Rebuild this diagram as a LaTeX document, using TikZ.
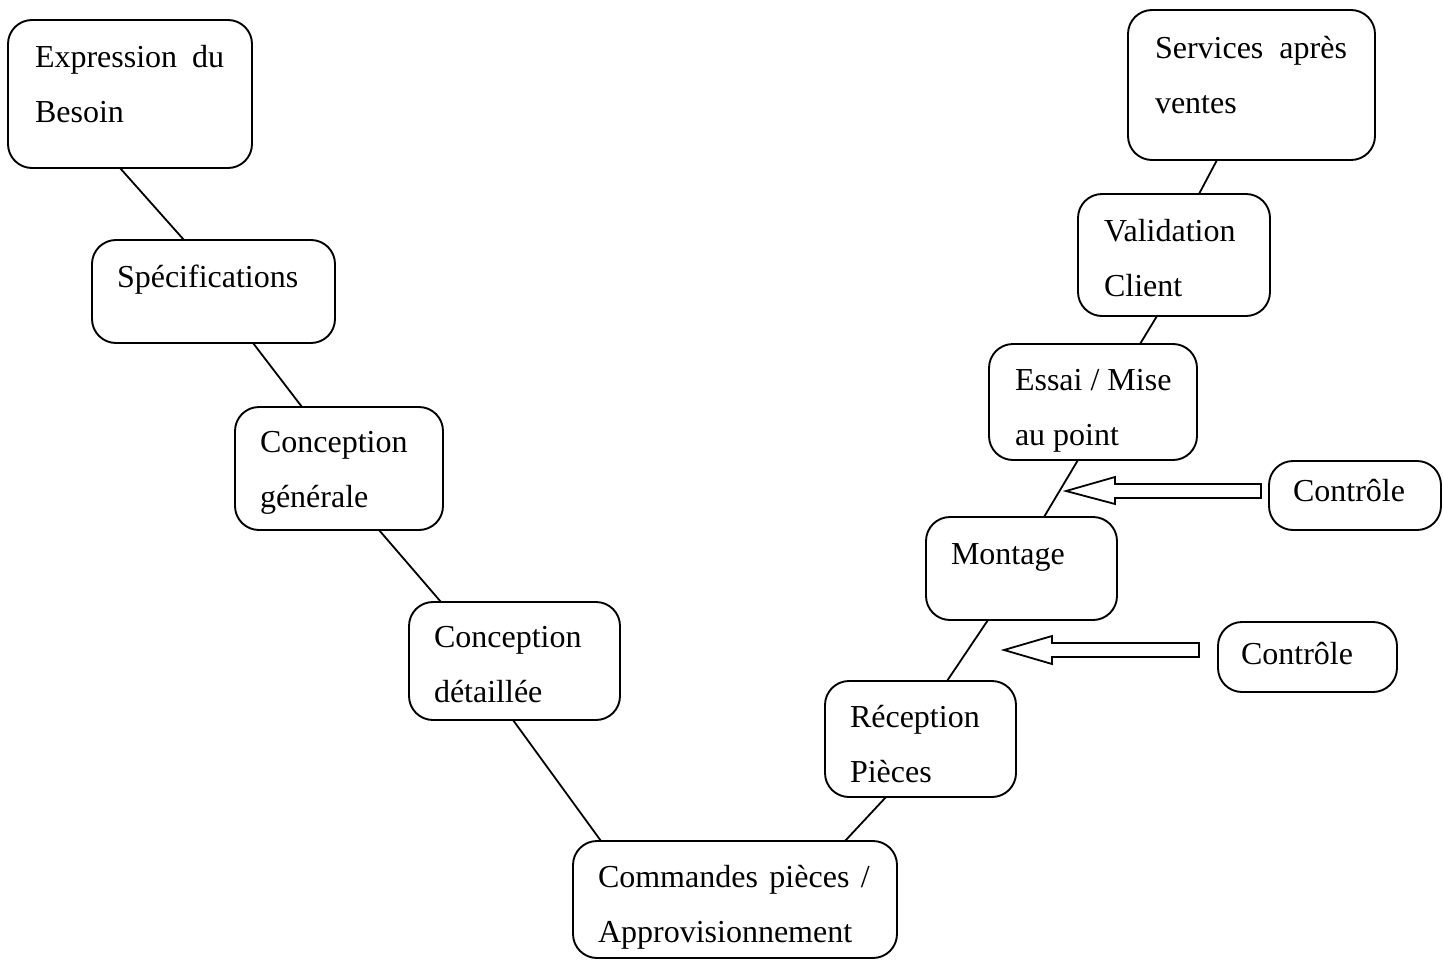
\documentclass[tikz,border=0pt]{standalone}
\usepackage{fontspec}
\setmainfont{Liberation Serif}
\usetikzlibrary{calc}
\tikzset{
  box/.style={draw, line width=1.9pt, rounded corners=24pt, inner sep=0pt, outer sep=0pt},
  lbl/.style={anchor=north west, inner sep=0pt, outer sep=0pt, align=left, font=\fontsize{32}{55}\selectfont},
  conn/.style={line width=1.8pt},
  blockarrow/.style={draw, line width=1.8pt, fill=white, line join=miter}
}
\newcommand{\st}{\rule{0pt}{24pt}}
\begin{document}
\begin{tikzpicture}[x=1pt,y=-1pt]
\useasboundingbox (0,0) rectangle (1443,961);
% boxes: center=(l+r)/2,(t+b)/2
\node[box, minimum width=244, minimum height=148] (b1) at (130,94) {};
\node[box, minimum width=243, minimum height=103] (b2) at (213.5,291.5) {};
\node[box, minimum width=208, minimum height=123] (b3) at (339,468.5) {};
\node[box, minimum width=211, minimum height=118] (b4) at (514.5,661) {};
\node[box, minimum width=324, minimum height=117] (b5) at (735,899.5) {};
\node[box, minimum width=191, minimum height=116] (b6) at (920.5,739) {};
\node[box, minimum width=191, minimum height=103] (b7) at (1021.5,568.5) {};
\node[box, minimum width=208, minimum height=116] (b8) at (1093,402) {};
\node[box, minimum width=192, minimum height=122] (b9) at (1174,255) {};
\node[box, minimum width=247, minimum height=150] (b10) at (1251.5,85) {};
\node[box, minimum width=172, minimum height=69] (c1) at (1355,495.5) {};
\node[box, minimum width=179, minimum height=70] (c2) at (1307.5,657) {};
% labels
\node[lbl] (t1) at ($(b1.north west)+(27,23)$) {\st Expression\hspace{15pt}du\\Besoin};
\node[lbl] (t2) at ($(b2.north west)+(25,23)$) {\st Spécifications};
\node[lbl] (t3) at ($(b3.north west)+(25,21)$) {\st Conception\\générale};
\node[lbl] (t4) at ($(b4.north west)+(25,21)$) {\st Conception\\détaillée};
\node[lbl] (t5) at ($(b5.north west)+(25,22)$) {\st Commandes\hspace{11.5pt}pièces\hspace{11.5pt}/\\Approvisionnement};
\node[lbl] (t6) at ($(b6.north west)+(25,22)$) {\st Réception\\Pièces};
\node[lbl] (t7) at ($(b7.north west)+(25,23)$) {\st Montage};
\node[lbl] (t8) at ($(b8.north west)+(26,22)$) {\st Essai / Mise\\au point};
\node[lbl] (t9) at ($(b9.north west)+(26,23)$) {\st Validation\\Client};
\node[lbl] (t10) at ($(b10.north west)+(27,24)$) {\st Services\hspace{16pt}après\\ventes};
\node[lbl] (tc1) at ($(c1.north west)+(24,16)$) {\st Contrôle};
\node[lbl] (tc2) at ($(c2.north west)+(23,18)$) {\st Contrôle};
% connectors
\draw[conn] ([xshift=-10pt]b1.south) -- ([xshift=-29.5pt]b2.north);
\draw[conn] ([xshift=39.5pt]b2.south) -- ([xshift=-37pt]b3.north);
\draw[conn] ([xshift=40pt]b3.south) -- ([xshift=-73.5pt]b4.north);
\draw[conn] ([xshift=-1.5pt]b4.south) -- ([xshift=-134pt]b5.north);
\draw[conn] ([xshift=110pt]b5.north) -- ([xshift=-34.5pt]b6.south);
\draw[conn] ([xshift=26.5pt]b6.north) -- ([xshift=-33.5pt]b7.south);
\draw[conn] ([xshift=22.5pt]b7.north) -- ([xshift=-15pt]b8.south);
\draw[conn] ([xshift=47pt]b8.north) -- ([xshift=-17pt]b9.south);
\draw[conn] ([xshift=25pt]b9.north) -- ([xshift=-34.5pt]b10.south);
% block arrows
\coordinate (a1) at (1066,491);
\coordinate (a2) at (1004,650);
\draw[blockarrow] (a1) -- ++(49,-14) -- ++(0,7) -- ++(146,0) -- ++(0,14) -- ++(-146,0) -- ++(0,6) -- cycle;
\draw[blockarrow] (a2) -- ++(48,-14) -- ++(0,7) -- ++(147,0) -- ++(0,14) -- ++(-147,0) -- ++(0,7) -- cycle;
\end{tikzpicture}
\end{document}
